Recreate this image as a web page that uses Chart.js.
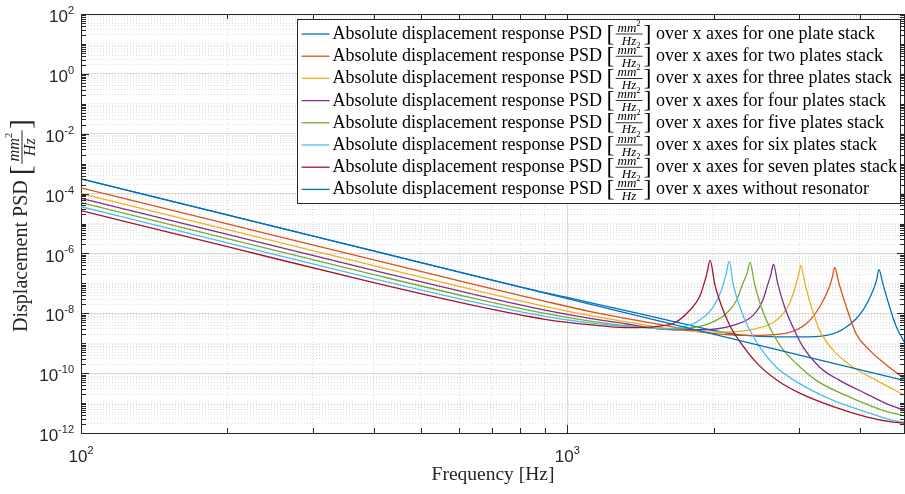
<!DOCTYPE html>
<html>
<head>
<meta charset="utf-8">
<script src="https://cdn.jsdelivr.net/npm/chart.js@4.4.1/dist/chart.umd.min.js"></script>
<style>
  html, body { margin: 0; padding: 0; background: #fff; }
  canvas { display: block; }
</style>
</head>
<body>
<canvas id="psdChart" width="905" height="494"></canvas>
<script>
// axis limits
const xMin = 100, xMax = 4950;
const yMin = 1e-12, yMax = 1e2;

// frequencies [Hz] and PSD values [mm^2/Hz]
const freqOne = [100, 200, 400, 630, 900, 1000, 1259, 1600, 1963, 2265, 2630, 3006, 3412, 3750, 4055, 4256, 4325, 4375, 4457, 4603, 4753, 4950];
const psdOne = [3.09e-4, 1.93e-5, 1.21e-6, 1.97e-7, 4.90e-8, 3.39e-8, 1.45e-8, 6.03e-9, 2.82e-9, 1.91e-9, 1.66e-9, 1.62e-9, 1.82e-9, 3.47e-9, 1.26e-8, 5.89e-8, 1.26e-7, 2.88e-7, 9.77e-8, 1.62e-8, 3.47e-9, 1.0e-9];

const freqTwo = [100, 200, 400, 630, 900, 1122, 1318, 1600, 1871, 2371, 2825, 3105, 3304, 3459, 3508, 3548, 3622, 3750, 3926, 4188, 4529, 4950];
const psdTwo = [1.55e-4, 9.68e-6, 6.05e-7, 1.0e-7, 2.52e-8, 1.12e-8, 6.76e-9, 3.89e-9, 2.40e-9, 1.82e-9, 2.19e-9, 4.57e-9, 1.62e-8, 7.59e-8, 1.58e-7, 3.39e-7, 9.77e-8, 1.62e-8, 2.09e-9, 5.75e-10, 1.91e-10, 6.31e-11];

const freqThree = [100, 200, 400, 630, 900, 1122, 1318, 1600, 2028, 2449, 2692, 2864, 2958, 2992, 3020, 3083, 3177, 3304, 3524, 3873, 4325, 4950];
const psdThree = [1.0e-4, 6.25e-6, 3.91e-7, 6.56e-8, 1.71e-8, 8.13e-9, 5.25e-9, 3.16e-9, 2.34e-9, 3.09e-9, 5.89e-9, 2.09e-8, 9.77e-8, 2.0e-7, 3.98e-7, 9.77e-8, 1.62e-8, 2.69e-9, 5.75e-10, 1.58e-10, 5.75e-11, 1.78e-11];

const freqFour = [100, 200, 400, 630, 900, 1122, 1318, 1479, 1660, 1871, 2193, 2410, 2523, 2588, 2624, 2655, 2710, 2799, 2911, 3055, 3304, 3631, 4121, 4529, 4950];
const psdFour = [6.92e-5, 4.33e-6, 2.70e-7, 4.63e-8, 1.28e-8, 6.61e-9, 4.47e-9, 3.24e-9, 2.82e-9, 2.82e-9, 3.98e-9, 8.51e-9, 2.69e-8, 9.77e-8, 2.0e-7, 4.37e-7, 9.77e-8, 1.62e-8, 3.47e-9, 7.41e-10, 1.58e-10, 5.75e-11, 2.04e-11, 9.55e-12, 5.62e-12];

const freqFive = [100, 200, 400, 630, 900, 1122, 1318, 1600, 1778, 1963, 2123, 2228, 2296, 2344, 2377, 2427, 2506, 2606, 2754, 2958, 3251, 3811, 4457, 4950];
const psdFive = [5.01e-5, 3.13e-6, 1.96e-7, 3.41e-8, 9.86e-9, 5.37e-9, 3.89e-9, 2.95e-9, 3.16e-9, 4.57e-9, 9.77e-9, 2.69e-8, 9.77e-8, 2.24e-7, 5.01e-7, 9.77e-8, 1.62e-8, 3.47e-9, 7.41e-10, 2.09e-10, 5.75e-11, 1.58e-11, 5.75e-12, 3.72e-12];

const freqSix = [100, 200, 400, 630, 900, 1122, 1318, 1600, 1778, 1871, 1995, 2075, 2123, 2153, 2193, 2265, 2355, 2489, 2692, 3006, 3524, 4121, 4677, 4950];
const psdSix = [3.63e-5, 2.27e-6, 1.42e-7, 2.55e-8, 7.94e-9, 4.68e-9, 3.63e-9, 3.09e-9, 3.98e-9, 5.89e-9, 1.62e-8, 5.89e-8, 2.14e-7, 5.50e-7, 9.77e-8, 1.62e-8, 3.47e-9, 7.41e-10, 1.58e-10, 4.47e-11, 1.23e-11, 5.01e-12, 2.63e-12, 2.24e-12];

const freqSeven = [100, 200, 400, 630, 900, 1122, 1318, 1549, 1675, 1786, 1871, 1932, 1968, 2009, 2075, 2158, 2265, 2449, 2692, 3006, 3524, 4121, 4677, 4950];
const psdSeven = [2.69e-5, 1.68e-6, 1.05e-7, 1.95e-8, 6.31e-9, 4.07e-9, 3.31e-9, 3.72e-9, 5.13e-9, 1.26e-8, 3.55e-8, 1.78e-7, 5.89e-7, 1.0e-7, 1.82e-8, 3.98e-9, 1.12e-9, 2.24e-10, 6.03e-11, 2.14e-11, 7.59e-12, 3.47e-12, 2.29e-12, 2.14e-12];

const freqNone = [100, 1000, 4950];
const psdNone = [3.09e-4, 3.09e-8, 5.62e-11];

const seriesTails = ['for one plate stack', 'for two plates stack', 'for three plates stack', 'for four plates stack',
    'for five plates stack', 'for six plates stack', 'for seven plates stack', 'without resonator'];
const seriesColors = ['#0072BD', '#D95319', '#EDB120', '#7E2F8E', '#77AC30', '#4DBEEE', '#A2142F', '#0072BD'];

// tick labels shown (powers of ten)
const xLabelExps = [2, 3];
const yLabelExps = [2, 0, -2, -4, -6, -8, -10, -12];

const axisColor = '#262626';
const sansFont = '"Liberation Sans", Arial, Helvetica, sans-serif';
const serifFont = '"Liberation Serif", "Times New Roman", serif';

const seriesData = [[freqOne, psdOne], [freqTwo, psdTwo], [freqThree, psdThree], [freqFour, psdFour],
    [freqFive, psdFive], [freqSix, psdSix], [freqSeven, psdSeven], [freqNone, psdNone]];

// 1..9 x 10^k ticks for a log axis
const logTicks = (lo, hi, labelExps) => {
    const ticks = [];
    for (let e = Math.floor(Math.log10(lo)); e <= Math.ceil(Math.log10(hi)); e++) {
        for (let n = 1; n <= 9; n++) {
            const v = n * Math.pow(10, e);
            if (v < lo * 0.999 || v > hi * 1.001) continue;
            ticks.push({value: v, major: n === 1 && labelExps.includes(e), exp: e});
        }
    }
    return ticks;
}

const gridOpts = {
    drawTicks: false,
    lineWidth: 1,
    color: c => (c.tick && c.tick.major) ? '#dadada' : '#dedede'
};
const borderOpts = {
    color: axisColor,
    width: 1,
    dash: c => (c.tick && !c.tick.major) ? [1, 2] : []
};

// "10" with a raised exponent
const powerLabel = (ctx, exp, x, y, align) => {
    const base = '10', sup = String(exp);
    ctx.textBaseline = 'middle';
    ctx.textAlign = 'left';
    ctx.font = `17px ${sansFont}`;
    const wb = ctx.measureText(base).width;
    ctx.font = `11px ${sansFont}`;
    const ws = ctx.measureText(sup).width;
    const left = align === 'right' ? x - wb - ws : x - (wb + ws) / 2;
    ctx.font = `17px ${sansFont}`;
    ctx.fillText(base, left, y);
    ctx.font = `11px ${sansFont}`;
    ctx.fillText(sup, left + wb, y - 6.5);
}

// [ mm^2 / Hz ] in bracket, bar centred on y; returns width
const bracketFrac = (ctx, x, y, s, draw) => {
    const put = (t, px, py) => { if (draw) ctx.fillText(t, px, py); };
    ctx.textBaseline = 'alphabetic';
    ctx.textAlign = 'left';
    ctx.font = `${24 * s}px ${serifFont}`;
    const wBr = ctx.measureText('[').width;
    put('[', x, y + 6.5 * s);
    let cx = x + wBr + 1 * s;
    ctx.font = `italic ${13 * s}px ${serifFont}`;
    const wmm = ctx.measureText('mm').width;
    const whz = ctx.measureText('Hz').width;
    ctx.font = `${8.5 * s}px ${serifFont}`;
    const w2 = ctx.measureText('2').width;
    const w = Math.max(wmm + w2, whz) + 4 * s;
    const nx = cx + (w - wmm - w2) / 2;
    ctx.font = `italic ${13 * s}px ${serifFont}`;
    put('mm', nx, y - 2.5 * s);
    put('Hz', cx + (w - whz) / 2, y + 10.5 * s);
    ctx.font = `${8.5 * s}px ${serifFont}`;
    put('2', nx + wmm, y - 8 * s);
    if (draw) ctx.fillRect(cx, y - 0.4 * s, w, 0.8 * s);
    cx += w + 1 * s;
    ctx.font = `${24 * s}px ${serifFont}`;
    put(']', cx, y + 6.5 * s);
    return cx + ctx.measureText(']').width - x;
}

const drawLegend = (chart) => {
    const {ctx, chartArea: a} = chart;
    const head = 'Absolute displacement response PSD ';
    const rowH = 22.2;
    const top = a.top + 5, right = a.right - 5;
    ctx.font = `18px ${serifFont}`;
    const wHead = ctx.measureText(head).width;
    const wFrac = bracketFrac(ctx, 0, 0, 1, false);
    ctx.font = `18px ${serifFont}`;
    const tails = seriesTails.map(t => ' over x axes ' + t);
    const wTail = Math.max(...tails.map(t => ctx.measureText(t).width));
    const boxW = 36 + wHead + wFrac + wTail + 3;
    const boxH = rowH * (seriesTails.length - 1) + 29;
    const left = right - boxW;
    ctx.fillStyle = '#fff';
    ctx.fillRect(left, top, boxW, boxH);
    ctx.strokeStyle = axisColor;
    ctx.lineWidth = 1;
    ctx.strokeRect(Math.round(left) + 0.5, Math.round(top) + 0.5, Math.round(boxW), Math.round(boxH));
    tails.forEach((t, i) => {
        const cy = top + 15 + i * rowH;
        ctx.strokeStyle = seriesColors[i];
        ctx.lineWidth = 1.3;
        ctx.beginPath();
        ctx.moveTo(left + 5, cy);
        ctx.lineTo(left + 33, cy);
        ctx.stroke();
        ctx.fillStyle = '#000';
        ctx.font = `18px ${serifFont}`;
        ctx.textBaseline = 'alphabetic';
        ctx.textAlign = 'left';
        let tx = left + 36;
        ctx.fillText(head, tx, cy + 5);
        tx += wHead;
        tx += bracketFrac(ctx, tx, cy, 1, true);
        ctx.font = `18px ${serifFont}`;
        ctx.fillText(t, tx, cy + 5);
    });
}

const matlabFrame = {
    id: 'matlabFrame',
    afterDraw(chart) {
        const {ctx, chartArea: a, scales: {x, y}} = chart;
        ctx.save();
        ctx.strokeStyle = axisColor;
        ctx.lineWidth = 1;
        ctx.beginPath();
        ctx.moveTo(a.left, a.top + 0.5);
        ctx.lineTo(a.right, a.top + 0.5);
        ctx.moveTo(a.right - 0.5, a.top);
        ctx.lineTo(a.right - 0.5, a.bottom);
        // inward tick marks on all four sides
        x.ticks.forEach(t => {
            const px = Math.round(x.getPixelForValue(t.value)) + 0.5;
            const len = t.major ? 8 : 5;
            ctx.moveTo(px, a.bottom);
            ctx.lineTo(px, a.bottom - len);
            ctx.moveTo(px, a.top);
            ctx.lineTo(px, a.top + len);
        });
        y.ticks.forEach(t => {
            const py = Math.round(y.getPixelForValue(t.value)) + 0.5;
            const len = t.major ? 8 : 5;
            ctx.moveTo(a.left, py);
            ctx.lineTo(a.left + len, py);
            ctx.moveTo(a.right, py);
            ctx.lineTo(a.right - len, py);
        });
        ctx.stroke();

        // tick labels
        ctx.fillStyle = axisColor;
        xLabelExps.forEach(e => powerLabel(ctx, e, x.getPixelForValue(Math.pow(10, e)), a.bottom + 24, 'center'));
        yLabelExps.forEach(e => powerLabel(ctx, e, a.left - 7, y.getPixelForValue(Math.pow(10, e)) + 3.5, 'right'));

        // x title
        ctx.font = `19.5px ${serifFont}`;
        ctx.textAlign = 'center';
        ctx.textBaseline = 'middle';
        ctx.fillText('Frequency [Hz]', (a.left + a.right) / 2, 475);

        // y title (rotated)
        ctx.save();
        ctx.translate(27, (a.top + a.bottom) / 2 + 2);
        ctx.rotate(-Math.PI / 2);
        ctx.font = `20px ${serifFont}`;
        const main = 'Displacement PSD ';
        const wm = ctx.measureText(main).width;
        const wf = bracketFrac(ctx, 0, 0, 1.25, false);
        const x0 = -(wm + wf) / 2;
        ctx.font = `20px ${serifFont}`;
        ctx.textAlign = 'left';
        ctx.textBaseline = 'alphabetic';
        ctx.fillText(main, x0, 0);
        bracketFrac(ctx, x0 + wm, -5, 1.25, true);
        ctx.restore();

        drawLegend(chart);
        ctx.restore();
    }
};

const datasets = seriesData.map(([f, p], i) => ({
    label: `Absolute displacement response PSD [mm²/Hz] over x axes ${seriesTails[i]}`,
    data: f.map((v, j) => ({x: v, y: p[j]})),
    borderColor: seriesColors[i],
    backgroundColor: seriesColors[i],
    borderWidth: 1.3,
    pointRadius: 0,
    fill: false,
    cubicInterpolationMode: 'monotone',
    order: seriesData.length - i
}));

new Chart(document.getElementById('psdChart').getContext('2d'), {
    type: 'line',
    data: {datasets: datasets},
    options: {
        responsive: false,
        animation: false,
        devicePixelRatio: 1,
        layout: {padding: {left: 81, top: 14, right: 0, bottom: 61}},
        plugins: {
            legend: {display: false},
            tooltip: {enabled: false}
        },
        scales: {
            x: {
                type: 'logarithmic',
                min: xMin,
                max: xMax,
                afterBuildTicks: axis => { axis.ticks = logTicks(xMin, xMax, xLabelExps); },
                ticks: {display: false},
                grid: gridOpts,
                border: borderOpts
            },
            y: {
                type: 'logarithmic',
                min: yMin,
                max: yMax,
                afterBuildTicks: axis => { axis.ticks = logTicks(yMin, yMax, yLabelExps); },
                ticks: {display: false},
                grid: gridOpts,
                border: borderOpts
            }
        }
    },
    plugins: [matlabFrame]
});
</script>
</body>
</html>
